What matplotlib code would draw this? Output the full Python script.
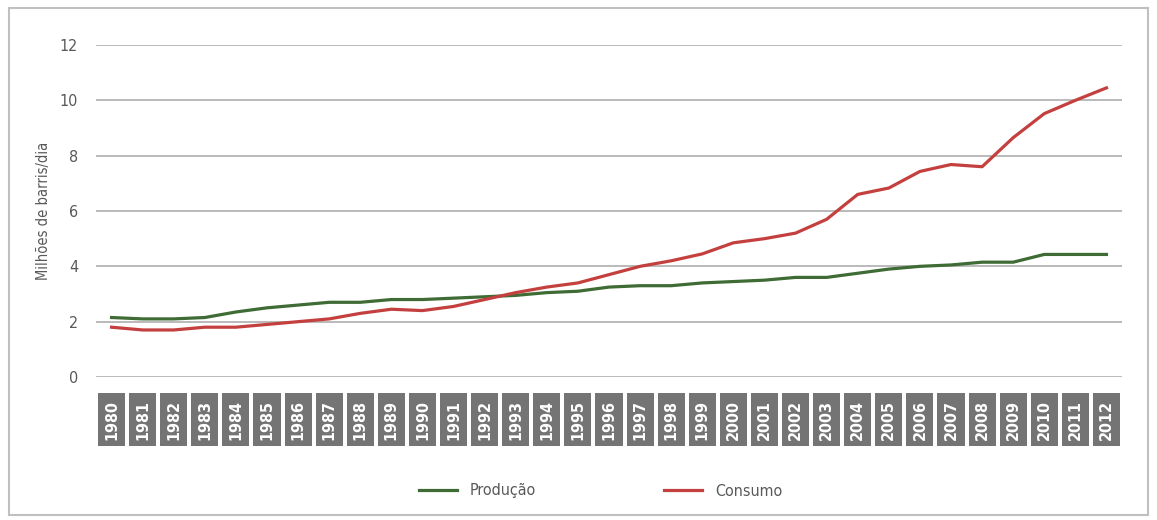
#!/usr/bin/env python3
"""
Produção e consumo de petróleo, 1980-2012 (milhões de barris/dia)
"""

import matplotlib
matplotlib.use('Agg')
import matplotlib.pyplot as plt
from matplotlib.patches import Rectangle
from matplotlib.transforms import blended_transform_factory

years = list(range(1980, 2013))
producao = [2.15, 2.1, 2.1, 2.15, 2.35, 2.5, 2.6, 2.7, 2.7, 2.8, 2.8,
            2.85, 2.9, 2.95, 3.05, 3.1, 3.25, 3.3, 3.3, 3.4, 3.45,
            3.5, 3.6, 3.6, 3.75, 3.9, 4.0, 4.05, 4.15, 4.15, 4.43,
            4.43, 4.43]
consumo = [1.8, 1.7, 1.7, 1.8, 1.8, 1.9, 2.0, 2.1, 2.3, 2.45, 2.4,
           2.55, 2.8, 3.05, 3.25, 3.4, 3.7, 4.0, 4.2, 4.45, 4.85,
           5.0, 5.2, 5.7, 6.6, 6.83, 7.43, 7.68, 7.6, 8.65, 9.52,
           10.0, 10.45]
yticks = [0, 2, 4, 6, 8, 10, 12]

GREEN = '#3f6b35'
RED = '#c4403f'
TEXT = '#595959'

plt.rcParams['font.family'] = ['DejaVu Sans']
plt.rcParams['font.stretch'] = 'condensed'

fig = plt.figure(figsize=(11.57, 5.2), dpi=100)
ax = fig.add_axes([96 / 1157, 143 / 520, 1026 / 1157, 332 / 520])

# outer frame
fig.patches.append(Rectangle((9 / 1157, 5 / 520), 1139 / 1157, 507 / 520,
                             transform=fig.transFigure, fill=False,
                             edgecolor='#c0c0c0', linewidth=1.5))

x = range(len(years))
ax.plot(x, producao, color=GREEN, lw=2.3, label='Produção')
ax.plot(x, consumo, color=RED, lw=2.3, label='Consumo')

ax.set_xlim(-0.5, len(years) - 0.5)
ax.set_ylim(0, 12)
ax.set_yticks(yticks)
ax.set_yticklabels([str(v) for v in yticks], color=TEXT, fontsize=11.5)
ax.tick_params(axis='y', length=0, pad=13)
ax.set_xticks([])
ax.grid(axis='y', color='#b4b4b4', lw=1.3)
ax.set_axisbelow(True)
for s in ax.spines.values():
    s.set_visible(False)

ax.set_ylabel('Milhões de barris/dia', color=TEXT, fontsize=10.5, labelpad=6)

# gray boxed year labels
trans = blended_transform_factory(ax.transData, ax.transAxes)
box_top, box_bot = -16 / 332, -69 / 332
for i, yr in enumerate(years):
    ax.add_patch(Rectangle((i - 0.435, box_bot), 0.87, box_top - box_bot,
                           transform=trans, facecolor='#747474',
                           edgecolor='none', clip_on=False))
    ax.text(i, (box_top + box_bot) / 2, str(yr), transform=trans,
            rotation=90, ha='center', va='center', color='white',
            fontsize=11.5, fontweight='bold', clip_on=False)

leg = fig.legend(loc='center', bbox_to_anchor=(0.519, 1 - 491 / 520),
                 ncol=2, frameon=False, handlelength=2.4,
                 columnspacing=8.0, fontsize=11.5)
for t in leg.get_texts():
    t.set_color(TEXT)

fig.savefig('out.png', dpi=100)
